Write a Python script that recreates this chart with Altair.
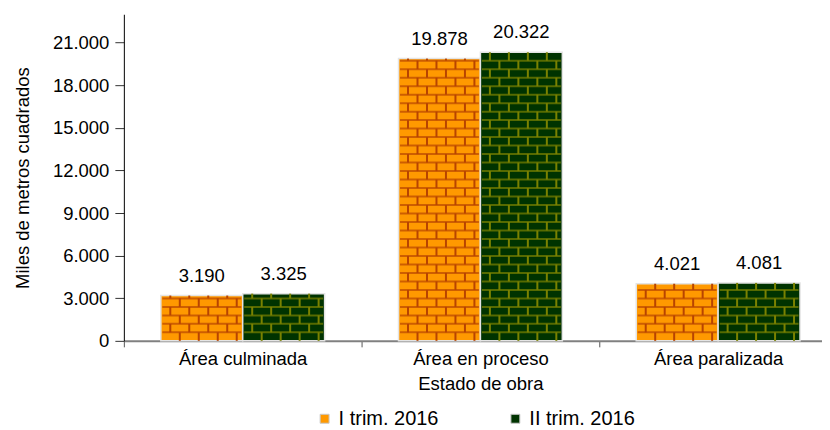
import altair as alt
import pandas as pd

# ---- data ----
categories = ["Área culminada", "Área en proceso", "Área paralizada"]
series_names = ["I trim. 2016", "II trim. 2016"]
trim1 = [3190, 19878, 4021]
trim2 = [3325, 20322, 4081]
y_ticks = [0, 3000, 6000, 9000, 12000, 15000, 18000, 21000]

# ---- layout / style ----
W = 714
H = 327
Y_MAX = 23000
FONT = "Liberation Sans"
BAR_W = 82
band = W / 3
pad_outer = (band / BAR_W - 2) / 2
fills = ["#FF9900", "#003300"]
mortar = ["#B84400", "#7A8200"]
row_h = 8.5 * Y_MAX / H          # brick row height in data units
brick_w = 19.0                    # brick width in pixels

rows = []
for c, a, b in zip(categories, trim1, trim2):
    for i, v in enumerate((a, b)):
        start = pad_outer * BAR_W + i * BAR_W
        rows.append({"category": c, "series": series_names[i], "value": v,
                     "xo": start + BAR_W / 2})
df = pd.DataFrame(rows)

# brick texture (decoration derived from bar values)
hl, vl = [], []
for r in rows:
    start = r["xo"] - BAR_W / 2
    v = r["value"]
    k = 1
    while k * row_h < v - 60:
        hl.append({"category": r["category"], "series": r["series"], "y": k * row_h,
                   "xo": r["xo"]})
        k += 1
    k = 0
    while k * row_h < v:
        y0 = k * row_h
        y1 = min((k + 1) * row_h, v)
        phase = brick_w / 2 if k % 2 else brick_w
        x = start + phase
        while x < start + BAR_W - 3:
            if x > start + 3:
                vl.append({"category": r["category"], "series": r["series"],
                           "y": y0, "y2": y1, "xo": x})
            x += brick_w
        k += 1
hdf = pd.DataFrame(hl)
vdf = pd.DataFrame(vl)

x_enc = alt.X("category:N", sort=categories, title="Estado de obra",
              scale=alt.Scale(paddingInner=0, paddingOuter=0),
              axis=alt.Axis(tickBand="extent", labelAngle=0, labelFontSize=18.5,
                            titleFontSize=18.5, labelPadding=3, titlePadding=6,
                            domainColor="#808080", domainWidth=2, tickColor="#555555",
                            tickSize=6, labelColor="#000000", titleColor="#000000",
                            titleFontWeight="normal", labelFont=FONT, titleFont=FONT))
x_band0 = alt.X("category:N", sort=categories, bandPosition=0)
y_scale = alt.Scale(domain=[0, Y_MAX], nice=False)
off_scale = alt.Scale(paddingInner=0, paddingOuter=pad_outer)
q_off = alt.XOffset("xo:Q", scale=alt.Scale(domain=[0, band], range=[0, band]))
mortar_color = alt.condition(f"datum.series == '{series_names[0]}'",
                             alt.value(mortar[0]), alt.value(mortar[1]))

bars = alt.Chart(df).mark_bar(stroke="#E4E4E4", strokeWidth=1.5).encode(
    x=x_enc,
    xOffset=alt.XOffset("series:N", sort=series_names, scale=off_scale),
    y=alt.Y("value:Q", scale=y_scale, title="Miles de metros cuadrados",
            axis=alt.Axis(values=y_ticks, labelExpr="replace(format(datum.value, ','), ',', '.')",
                          grid=False, labelFontSize=18.5, titleFontSize=18.5,
                          labelFont=FONT, titleFont=FONT, titleFontWeight="normal",
                          labelColor="#000000", titleColor="#000000",
                          domainColor="#000000", tickColor="#333333", tickSize=9,
                          labelPadding=6, titlePadding=20)),
    color=alt.Color("series:N", sort=series_names,
                    scale=alt.Scale(domain=series_names, range=fills),
                    legend=alt.Legend(title=None, orient="none", direction="horizontal",
                                      legendX=191, legendY=395, columnPadding=66,
                                      labelFontSize=20, labelFont=FONT, labelColor="#000000",
                                      symbolType="square", symbolSize=80,
                                      symbolStrokeColor="#C8C8C8", symbolStrokeWidth=1,
                                      labelOffset=4)),
)

hlines = alt.Chart(hdf).mark_tick(orient="horizontal", size=BAR_W - 3, thickness=2).encode(
    x=x_band0, xOffset=q_off,
    y=alt.Y("y:Q", scale=y_scale),
    color=mortar_color,
)

vlines = alt.Chart(vdf).mark_rule(strokeWidth=2).encode(
    x=x_band0, xOffset=q_off,
    y=alt.Y("y:Q", scale=y_scale), y2="y2:Q",
    color=mortar_color,
)

labels = alt.Chart(df).mark_text(baseline="alphabetic", dy=-14, fontSize=18.5,
                                 font=FONT, color="#000000").transform_calculate(
    label="replace(format(datum.value, ','), ',', '.')"
).encode(
    x=x_band0, xOffset=q_off,
    y=alt.Y("value:Q", scale=y_scale),
    text="label:N",
)

chart = alt.layer(bars, hlines, vlines, labels).resolve_scale(
    xOffset="independent"
).properties(
    width=W, height=H,
    padding={"left": 5, "top": 6, "right": -16, "bottom": 0},
).configure_view(stroke=None)

chart.save("out.html", embed_options={"renderer": "svg", "actions": False})
